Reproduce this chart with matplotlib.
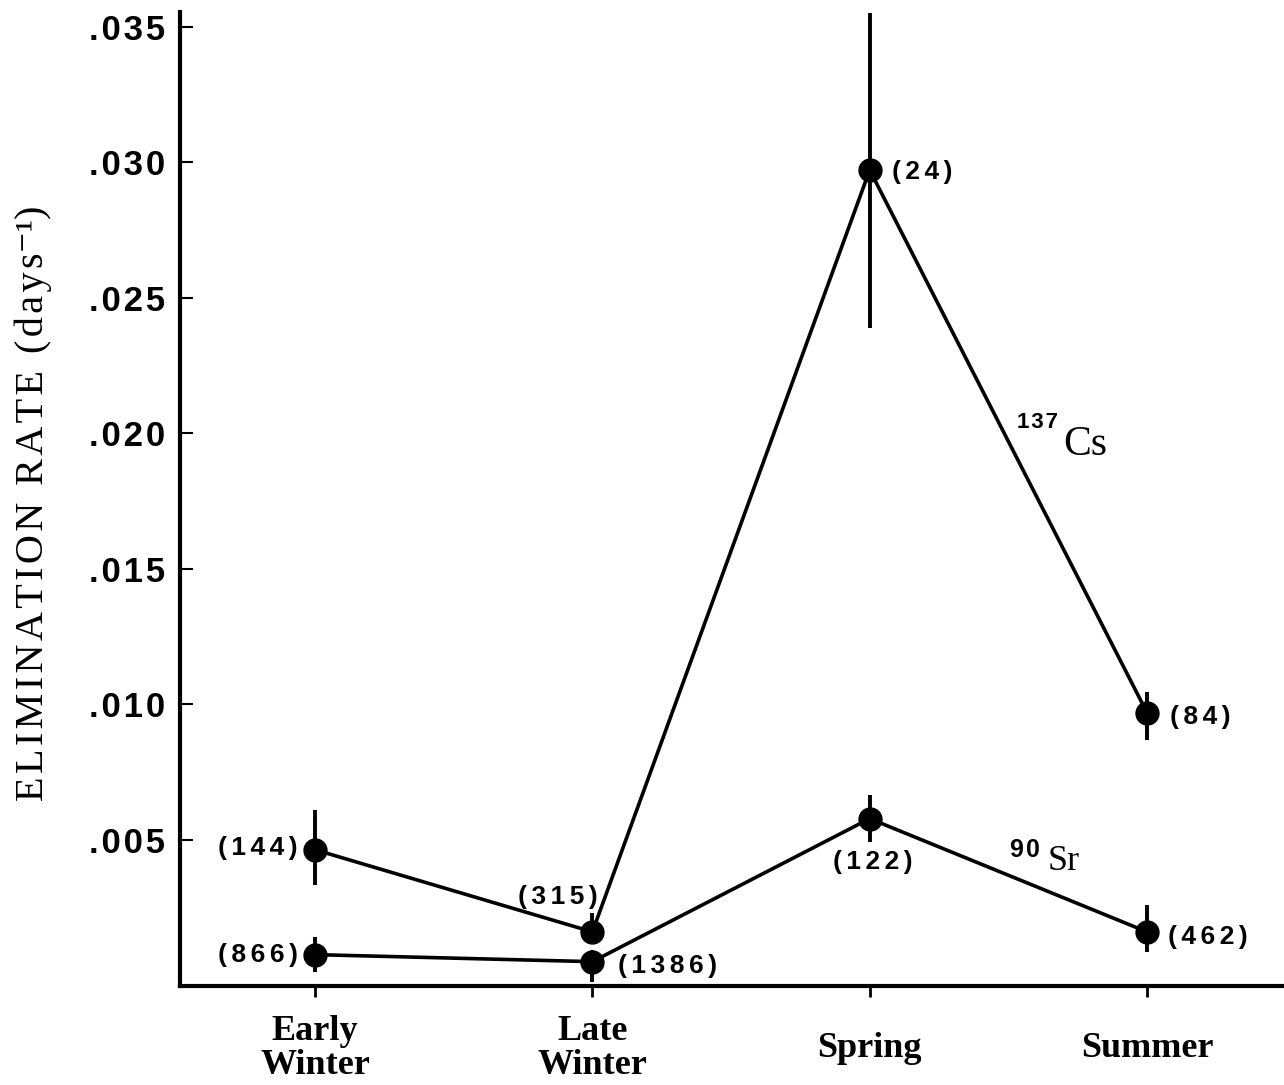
import numpy as np
import matplotlib
matplotlib.use("Agg")
from matplotlib import pyplot as plt

# Seasons on the x axis
seasons = ["Early\nWinter", "Late\nWinter", "Spring", "Summer"]

# 137Cs elimination rate (days^-1) with error bar limits
cs_rate = [0.00463, 0.00160, 0.02972, 0.00969]
cs_low = [0.00334, 0.00124, 0.02390, 0.00869]
cs_high = [0.00611, 0.00231, 0.03550, 0.01046]
cs_n = [144, 315, 24, 84]

# 90Sr elimination rate (days^-1) with error bar limits
sr_rate = [0.00076, 0.00050, 0.00578, 0.00160]
sr_low = [0.00013, -0.00024, 0.00493, 0.00087]
sr_high = [0.00142, 0.00094, 0.00666, 0.00260]
sr_n = [866, 1386, 122, 462]

y_ticks = [0.005, 0.010, 0.015, 0.020, 0.025, 0.030, 0.035]

HAIR = "\u200a"
SANS = ["Liberation Sans", "DejaVu Sans"]
SERIF = ["Liberation Serif", "DejaVu Serif"]


def spaced(s, gap=HAIR):
    # letter-spaced text, like the old typewriter lettering
    return gap.join(s)


fig = plt.figure(figsize=(12.84, 10.85), dpi=100)
ax = fig.add_axes([0.1402, 0.0912, 0.8598, 0.8977])

x = np.arange(len(seasons))
for rate, low, high in [(cs_rate, cs_low, cs_high), (sr_rate, sr_low, sr_high)]:
    rate = np.array(rate)
    yerr = [rate - np.array(low), np.array(high) - rate]
    ax.errorbar(x, rate, yerr=yerr, fmt="o-", color="black", ms=16.5,
                lw=2.6, elinewidth=2.8, capsize=0, zorder=3)

ax.set_xlim(-0.487, 3.494)
ax.set_ylim(-0.0004, 0.03555)

# sample sizes next to the points: (dx, dy, ha) in pixels
cs_pos = [(-17, 2, "right"), (5, 35, "right"), (22, -2, "left"), (23, -4, "left")]
sr_pos = [(-17, 0, "right"), (26, -4, "left"), (3, -43, "center"), (21, -5, "left")]
for rate, counts, pos in [(cs_rate, cs_n, cs_pos), (sr_rate, sr_n, sr_pos)]:
    for xi, yi, n, (dx, dy, ha) in zip(x, rate, counts, pos):
        ax.annotate(spaced(f"({n})", HAIR * 2), (xi, yi), xytext=(dx, dy),
                    textcoords="offset pixels", ha=ha, va="center",
                    fontsize=19, fontweight="bold", family=SANS)

# isotope labels
ax.text(2.679, 0.02021, spaced("137"), ha="right", va="baseline",
        fontsize=16, fontweight="bold", family=SANS)
ax.text(2.697, 0.01921, "Cs", ha="left", va="baseline", fontsize=30, family=SERIF)
ax.text(2.614, 0.00437, spaced("90"), ha="right", va="baseline",
        fontsize=18, fontweight="bold", family=SANS)
ax.text(2.640, 0.00389, "Sr", ha="left", va="baseline", fontsize=26, family=SERIF)

for side in ["top", "right"]:
    ax.spines[side].set_visible(False)
for side in ["left", "bottom"]:
    ax.spines[side].set_linewidth(3)

ax.set_yticks(y_ticks)
ax.set_yticklabels([spaced(f"{t:.3f}".lstrip("0")) for t in y_ticks],
                   fontsize=25, fontweight="bold", family=SANS)
ax.tick_params(axis="y", direction="in", length=9, width=1.5, pad=11)

ax.set_xticks(x)
ax.set_xticklabels(seasons, fontsize=26, fontweight="bold", family=SERIF,
                   linespacing=1.05)
ax.tick_params(axis="x", direction="out", length=8, width=2, pad=37)
for lbl in ax.get_xticklabels():
    lbl.set_va("center")

fig.text(0.026, 0.536, spaced("ELIMINATION RATE (days") + "\u207b\u00b9)",
         rotation=90, ha="center", va="center", fontsize=29, family=SERIF)

fig.savefig("out.png", dpi=100)
